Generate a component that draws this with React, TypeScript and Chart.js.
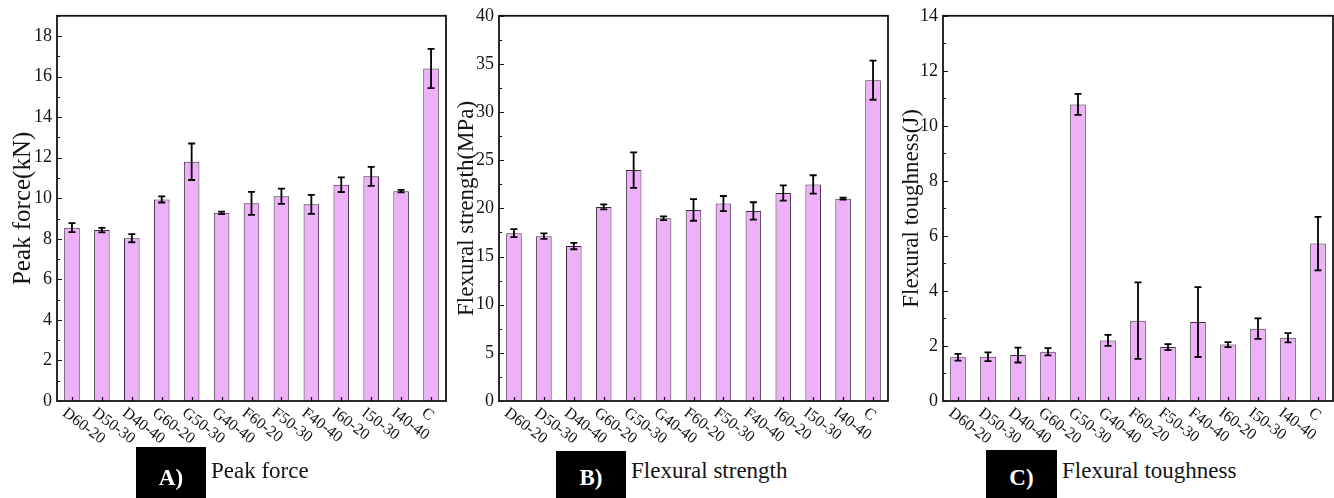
import React, { useEffect, useRef } from "react";
import { Chart, registerables } from "chart.js";
Chart.register(...registerables);

const categories = ["D60-20", "D50-30", "D40-40", "G60-20", "G50-30", "G40-40", "F60-20", "F50-30", "F40-40", "I60-20", "I50-30", "I40-40", "C"];
const peakForce = [8.55, 8.43, 8.03, 9.94, 11.8, 9.28, 9.75, 10.1, 9.7, 10.67, 11.08, 10.35, 16.4];
const peakForceErr = [0.22, 0.11, 0.2, 0.15, 0.9, 0.06, 0.57, 0.38, 0.47, 0.36, 0.47, 0.06, 0.97];
const flexStrength = [17.43, 17.12, 16.09, 20.15, 23.98, 18.98, 19.84, 20.5, 19.74, 21.6, 22.49, 21.01, 33.31];
const flexStrengthErr = [0.41, 0.28, 0.33, 0.26, 1.84, 0.19, 1.12, 0.79, 0.9, 0.79, 0.95, 0.1, 2.03];
const flexToughness = [1.59, 1.61, 1.67, 1.79, 10.78, 2.2, 2.92, 1.96, 2.87, 2.05, 2.63, 2.3, 5.72];
const flexToughnessErr = [0.12, 0.16, 0.27, 0.13, 0.38, 0.2, 1.39, 0.11, 1.27, 0.09, 0.37, 0.17, 0.97];

const SERIF = "'Liberation Serif', 'Times New Roman', serif";
const BAR = "#EEB0F8";
const EDGE = "#3a2c3c";
const INK = "#141414";
const CANVAS_H = 450;
const PLOT_TOP = 14;
const PLOT_BOTTOM = 401;

type PanelSpec = {
  values: number[];
  errors: number[];
  yMax: number;
  step: number;
  title: string;
  titleSize: number;
  titleX: number;
  leftW: number;
  left: number;
  width: number;
  padRight: number;
};

const panels: PanelSpec[] = [
  { values: peakForce, errors: peakForceErr, yMax: 19, step: 2, title: "Peak force(kN)", titleSize: 25, titleX: 23, leftW: 57, left: 0, width: 448, padRight: 2 },
  { values: flexStrength, errors: flexStrengthErr, yMax: 40, step: 5, title: "Flexural strength(MPa)", titleSize: 23, titleX: 19, leftW: 51, left: 448, width: 442, padRight: 2 },
  { values: flexToughness, errors: flexToughnessErr, yMax: 14, step: 2, title: "Flexural toughness(J)", titleSize: 23, titleX: 22, leftW: 53, left: 890, width: 444, padRight: 1 },
];

const captions = [
  { letter: "A)", text: "Peak force", boxLeft: 136, boxTop: 447, boxW: 70, textLeft: 211 },
  { letter: "B)", text: "Flexural strength", boxLeft: 556, boxTop: 451, boxW: 70, textLeft: 631 },
  { letter: "C)", text: "Flexural toughness", boxLeft: 986, boxTop: 450, boxW: 71, textLeft: 1062 },
];

function Panel({ p }: { p: PanelSpec }) {
  const ref = useRef<HTMLCanvasElement>(null);
  useEffect(() => {
    if (!ref.current) return;
    const decor = {
      id: "decor",
      afterDraw(chart: any) {
        const ctx = chart.ctx;
        const area = chart.chartArea;
        const ys = chart.scales.y;
        const meta = chart.getDatasetMeta(0);
        ctx.save();
        // error bars
        ctx.strokeStyle = "#000";
        ctx.lineWidth = 1.8;
        meta.data.forEach((el: any, i: number) => {
          const v = p.values[i];
          const e = p.errors[i];
          const t = ys.getPixelForValue(v + e);
          const b = ys.getPixelForValue(v - e);
          const x = el.x;
          ctx.beginPath();
          ctx.moveTo(x, t);
          ctx.lineTo(x, b);
          ctx.moveTo(x - 3.5, t);
          ctx.lineTo(x + 3.5, t);
          ctx.moveTo(x - 3.5, b);
          ctx.lineTo(x + 3.5, b);
          ctx.stroke();
        });
        // ticks (inward)
        ctx.strokeStyle = INK;
        ctx.lineWidth = 1.2;
        ctx.beginPath();
        for (let v = 0; v <= p.yMax + 1e-9; v += p.step / 2) {
          const y = Math.round(ys.getPixelForValue(v)) + 0.5;
          const major = Math.abs(v / p.step - Math.round(v / p.step)) < 1e-6;
          ctx.moveTo(area.left, y);
          ctx.lineTo(area.left + (major ? 5 : 3), y);
        }
        meta.data.forEach((el: any) => {
          const x = Math.round(el.x) + 0.5;
          ctx.moveTo(x, area.bottom);
          ctx.lineTo(x, area.bottom - 4);
        });
        ctx.stroke();
        // frame
        ctx.lineWidth = 1.8;
        ctx.strokeStyle = INK;
        ctx.strokeRect(area.left, area.top, area.right - area.left, area.bottom - area.top);
        // rotated x labels
        ctx.fillStyle = INK;
        ctx.font = `16px ${SERIF}`;
        ctx.textAlign = "left";
        ctx.textBaseline = "top";
        meta.data.forEach((el: any, i: number) => {
          ctx.save();
          ctx.translate(el.x - 3, area.bottom + 4);
          ctx.rotate((37 * Math.PI) / 180);
          ctx.fillText(categories[i], 0, 0);
          ctx.restore();
        });
        // y title
        ctx.save();
        ctx.translate(p.titleX, (area.top + area.bottom) / 2);
        ctx.rotate(-Math.PI / 2);
        ctx.font = `${p.titleSize}px ${SERIF}`;
        ctx.textAlign = "center";
        ctx.textBaseline = "middle";
        ctx.fillText(p.title, 0, 0);
        ctx.restore();
        ctx.restore();
      },
    };
    const chart = new Chart(ref.current, {
      type: "bar",
      data: {
        labels: categories,
        datasets: [
          {
            data: p.values,
            backgroundColor: BAR,
            borderColor: EDGE,
            borderWidth: 1,
            barPercentage: 0.52,
            categoryPercentage: 1,
          },
        ],
      },
      options: {
        responsive: false,
        animation: false,
        devicePixelRatio: 1,
        layout: { padding: { top: PLOT_TOP, right: p.padRight, bottom: CANVAS_H - PLOT_BOTTOM, left: 0 } },
        plugins: { legend: { display: false }, tooltip: { enabled: false }, title: { display: false } },
        scales: {
          x: { display: false, offset: true },
          y: {
            min: 0,
            max: p.yMax,
            ticks: { stepSize: p.step, includeBounds: false, font: { family: SERIF, size: 18 }, color: INK, padding: 5 },
            grid: { display: false, drawTicks: false },
            border: { display: false },
            afterFit: (s: any) => {
              s.width = p.leftW;
            },
          },
        },
      } as any,
      plugins: [decor],
    });
    return () => chart.destroy();
  }, []);
  return (
    <canvas
      ref={ref}
      width={p.width}
      height={CANVAS_H}
      style={{ position: "absolute", left: p.left, top: 0, width: p.width, height: CANVAS_H }}
    />
  );
}

export default function App() {
  return (
    <div style={{ position: "absolute", left: 0, top: 0, width: 1334, height: 498, background: "#fff", overflow: "hidden" }}>
      {panels.map((p, i) => (
        <Panel key={i} p={p} />
      ))}
      {captions.map((c, i) => (
        <React.Fragment key={i}>
          <div
            style={{
              position: "absolute",
              left: c.boxLeft,
              top: c.boxTop,
              width: c.boxW,
              height: 498 - c.boxTop,
              background: "#000",
            }}
          />
          <div
            style={{
              position: "absolute",
              left: c.boxLeft,
              top: 466,
              width: c.boxW,
              textAlign: "center",
              color: "#fff",
              fontFamily: SERIF,
              fontWeight: "bold",
              fontSize: 23,
              lineHeight: 1,
            }}
          >
            {c.letter}
          </div>
          <div
            style={{
              position: "absolute",
              left: c.textLeft,
              top: 459,
              color: INK,
              fontFamily: SERIF,
              fontSize: 23,
              lineHeight: 1,
              whiteSpace: "nowrap",
            }}
          >
            {c.text}
          </div>
        </React.Fragment>
      ))}
    </div>
  );
}
